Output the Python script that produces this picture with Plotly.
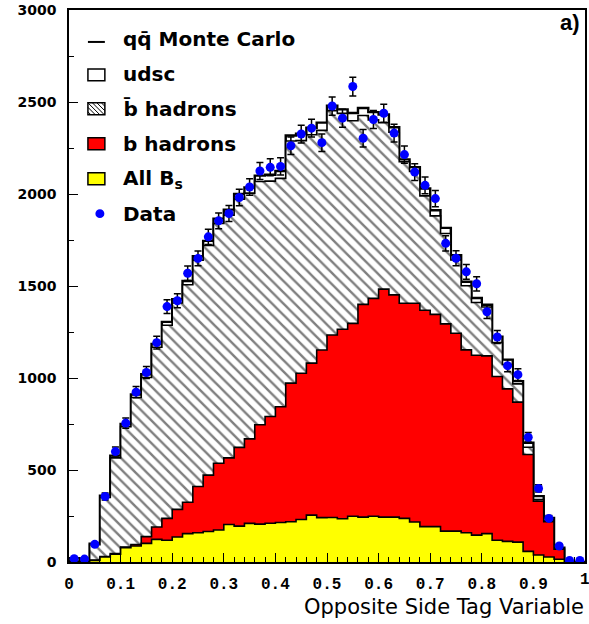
import numpy as np
import plotly.graph_objects as go

# Histogram binning of the opposite side tag variable
bin_lo, bin_hi, n_bins = 0.0, 1.0, 50

# Monte Carlo components per bin (events)
all_bs = [3, 3, 8, 27, 42, 78, 87, 101, 123, 118,
          136, 154, 159, 166, 174, 204, 195, 210, 206, 211,
          215, 219, 231, 255, 241, 242, 235, 249, 244, 249,
          244, 244, 237, 217, 192, 192, 168, 168, 159, 146,
          154, 118, 112, 108, 58, 38, 27, 15, 0, 0]
b_hadrons = [2, 2, 2, 3, 4, 3, 8, 37, 67, 119,
             150, 171, 251, 306, 363, 362, 428, 459, 540, 580,
             629, 753, 795, 826, 911, 992, 1030, 1048, 1156, 1184,
             1239, 1208, 1169, 1189, 1176, 1154, 1126, 1075, 994, 978,
             966, 890, 829, 761, 526, 293, 192, 54, 0, 0]
bbar_hadrons = [13, 11, 84, 321, 520, 655, 799, 865, 977, 1050,
                1122, 1182, 1230, 1249, 1303, 1319, 1349, 1336, 1322, 1279,
                1241, 1316, 1264, 1241, 1194, 1219, 1173, 1101, 1027, 970,
                904, 884, 769, 717, 622, 535, 491, 398, 348, 286,
                266, 184, 132, 99, 40, 9, 3, 1, 0, 0]
udsc = [2, 2, 6, 10, 12, 14, 16, 17, 18, 18,
        20, 20, 22, 24, 26, 30, 28, 30, 32, 35,
        40, 30, 38, 38, 42, 27, 22, 42, 40, 42,
        45, 27, 13, 23, 40, 31, 31, 27, 22, 25,
        12, 33, 27, 15, 24, 18, 18, 8, 0, 0]

# Observed data per bin
data_counts = [18, 16, 96, 356, 600, 755, 923, 1030, 1192, 1388,
               1420, 1569, 1650, 1767, 1854, 1894, 1981, 2038, 2125, 2145,
               2150, 2262, 2326, 2358, 2279, 2478, 2412, 2584, 2303, 2405,
               2439, 2331, 2214, 2119, 2047, 1975, 1732, 1651, 1577, 1512,
               1360, 1223, 1067, 1018, 678, 400, 237, 87, 8, 8]

x_tick_vals = [0, 0.1, 0.2, 0.3, 0.4, 0.5, 0.6, 0.7, 0.8, 0.9, 1.0]
x_tick_text = ["0", "0.1", "0.2", "0.3", "0.4", "0.5", "0.6", "0.7", "0.8", "0.9", "1"]
y_tick_vals = [0, 500, 1000, 1500, 2000, 2500, 3000]
y_tick_text = ["0", "500", "1000", "1500", "2000", "2500", "3000"]

edges = np.linspace(bin_lo, bin_hi, n_bins + 1)
centers = 0.5 * (edges[:-1] + edges[1:])

lvl_bs = np.array(all_bs, dtype=float)
lvl_b = lvl_bs + np.array(b_hadrons)
lvl_bbar = lvl_b + np.array(bbar_hadrons)
lvl_total = lvl_bbar + np.array(udsc)


def step_path(vals):
    """Outline of a histogram as an hv step path, closed down to zero."""
    xs = np.concatenate([[edges[0]], edges[:-1], [edges[-1]], [edges[-1]]])
    ys = np.concatenate([[0.0], vals, [vals[-1]], [0.0]])
    return xs, ys


fig = go.Figure()

layers = [
    (lvl_total, dict(fillcolor="white"), 2.4),
    (lvl_bbar, dict(fillcolor="white",
                    fillpattern=dict(shape="\\", fgcolor="black", bgcolor="white",
                                     size=8, solidity=0.3)), 1.6),
    (lvl_b, dict(fillcolor="#ff0000"), 1.6),
    (lvl_bs, dict(fillcolor="#ffff00"), 1.6),
]
for vals, fill_kw, lw in layers:
    xs, ys = step_path(vals)
    fig.add_trace(go.Scatter(
        x=xs, y=ys, mode="lines", line=dict(shape="hv", color="black", width=lw),
        fill="tozeroy", hoverinfo="skip", showlegend=False, **fill_kw))

fig.add_trace(go.Scatter(
    x=centers, y=data_counts, mode="markers",
    marker=dict(color="#0000ff", size=9, line=dict(width=0)),
    error_y=dict(type="data", array=np.sqrt(np.array(data_counts, dtype=float)),
                 color="black", thickness=1.5, width=3.5),
    showlegend=False))

# ---- page geometry (pixels) ----
W, H = 589, 624
L, R, T, B = 69, 2, 9, 62


def px_x(px):
    return (px - L) / (W - L - R)


def px_y(py):
    return (H - B - py) / (H - T - B)


shapes = []
annotations = []

# ---- legend ----
leg_font = dict(family="DejaVu Sans", size=20, color="black", weight="bold")
rows = [38, 73, 108, 143, 178, 213]
labels = ["qq\u0304 Monte Carlo", "udsc", "b\u0304 hadrons", "b hadrons",
          "All B<sub>s</sub>", "Data"]
for yc, txt in zip(rows, labels):
    annotations.append(dict(x=px_x(121), y=px_y(yc), xref="paper", yref="paper",
                            text=txt, showarrow=False, xanchor="left",
                            yanchor="middle", font=leg_font))

bx0, bx1 = 88, 105
# MC line
shapes.append(dict(type="line", xref="paper", yref="paper",
                   x0=px_x(bx0), x1=px_x(bx1), y0=px_y(41), y1=px_y(41),
                   line=dict(color="black", width=2)))
# udsc / b hadrons / Bs boxes
for yc, col in [(74, "white"), (143, "#ff0000"), (178, "#ffff00")]:
    shapes.append(dict(type="rect", xref="paper", yref="paper",
                       x0=px_x(bx0), x1=px_x(bx1), y0=px_y(yc - 6), y1=px_y(yc + 6),
                       fillcolor=col, line=dict(color="black", width=1.5)))
# hatched box for anti-b hadrons
hy0, hy1 = 102, 114
shapes.append(dict(type="rect", xref="paper", yref="paper",
                   x0=px_x(bx0), x1=px_x(bx1), y0=px_y(hy0), y1=px_y(hy1),
                   fillcolor="white", line=dict(color="black", width=1.5)))
hh = hy1 - hy0
for c in np.arange(bx0 - hh + 3, bx1, 4.5):
    # segment of x = c + (y - hy0), clipped to the box
    ya, yb = hy0, hy1
    xa, xb = c, c + hh
    if xa < bx0:
        ya += bx0 - xa
        xa = bx0
    if xb > bx1:
        yb -= xb - bx1
        xb = bx1
    if yb - ya > 0.5:
        shapes.append(dict(type="line", xref="paper", yref="paper",
                           x0=px_x(xa), x1=px_x(xb), y0=px_y(ya), y1=px_y(yb),
                           line=dict(color="black", width=1)))
# data dot
shapes.append(dict(type="circle", xref="paper", yref="paper",
                   x0=px_x(95.5), x1=px_x(104.5), y0=px_y(208.5), y1=px_y(217.5),
                   fillcolor="#0000ff", line=dict(width=0)))

# panel label
annotations.append(dict(x=px_x(584), y=px_y(22), xref="paper", yref="paper",
                        text="a)", showarrow=False, xanchor="right", yanchor="middle",
                        font=dict(family="Liberation Sans", size=22, color="black",
                                  weight="bold")))
# last x tick label sits on the page edge; placed by hand so it is not dropped
tick_font = dict(family="Liberation Mono", size=16, color="black", weight="bold")
annotations.append(dict(x=x_tick_vals[-1], y=0, xref="x", yref="paper",
                        text=x_tick_text[-1], showarrow=False, xanchor="center",
                        yanchor="top", yshift=-7, font=tick_font))
# x axis title
annotations.append(dict(x=px_x(588), y=px_y(607), xref="paper", yref="paper",
                        text="Opposite Side Tag Variable", showarrow=False,
                        xanchor="right", yanchor="middle",
                        font=dict(family="DejaVu Sans", size=21, color="black")))

fig.update_layout(
    width=W, height=H,
    margin=dict(l=L, r=R, t=T, b=B),
    paper_bgcolor="white", plot_bgcolor="white",
    shapes=shapes, annotations=annotations,
    showlegend=False,
    xaxis=dict(range=[bin_lo, bin_hi], tickvals=x_tick_vals[:-1],
               ticktext=x_tick_text[:-1],
               ticks="inside", ticklen=9, tickwidth=1.2, tickcolor="black",
               minor=dict(dtick=0.02, ticks="inside", ticklen=5, tickwidth=1,
                          tickcolor="black"),
               showline=True, linecolor="black", linewidth=1.5, mirror=True,
               showgrid=False, zeroline=False, ticklabelstandoff=6,
               tickfont=tick_font),
    yaxis=dict(range=[0, 3000], tickvals=y_tick_vals, ticktext=y_tick_text,
               ticks="inside", ticklen=9, tickwidth=1.2, tickcolor="black",
               minor=dict(dtick=250, ticks="inside", ticklen=5, tickwidth=1,
                          tickcolor="black"),
               showline=True, linecolor="black", linewidth=1.5, mirror=True,
               showgrid=False, zeroline=False, ticklabelstandoff=8,
               tickfont=dict(family="DejaVu Sans", size=14, color="black",
                             weight="bold")),
)

fig.write_html("out.html")
